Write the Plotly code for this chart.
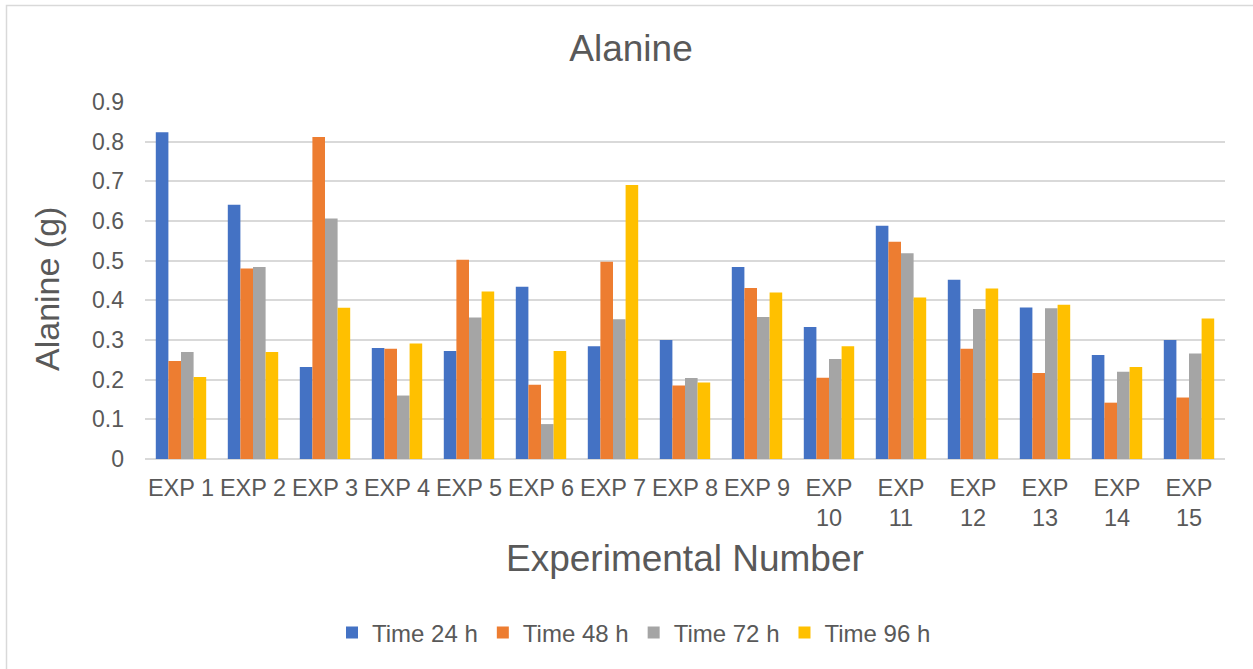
import plotly.graph_objects as go

# Alanine mass (g) per experiment, sampled at four time points
experiments = [f"EXP {i}" for i in range(1, 16)]
tick_labels = [f"EXP {i}" if i < 10 else f"EXP<br>{i}" for i in range(1, 16)]

time_24h = [0.824, 0.641, 0.232, 0.280, 0.272, 0.434, 0.284, 0.300, 0.484, 0.333, 0.588, 0.452, 0.382, 0.262, 0.300]
time_48h = [0.247, 0.480, 0.812, 0.278, 0.502, 0.187, 0.497, 0.185, 0.431, 0.205, 0.548, 0.278, 0.217, 0.142, 0.155]
time_72h = [0.270, 0.484, 0.606, 0.160, 0.357, 0.088, 0.352, 0.204, 0.358, 0.252, 0.519, 0.378, 0.380, 0.220, 0.266]
time_96h = [0.207, 0.270, 0.381, 0.291, 0.422, 0.272, 0.691, 0.193, 0.420, 0.284, 0.407, 0.430, 0.389, 0.232, 0.354]

series_names = ["Time 24 h", "Time 48 h", "Time 72 h", "Time 96 h"]
series_values = [time_24h, time_48h, time_72h, time_96h]
series_colors = ["#4472C4", "#ED7D31", "#A5A5A5", "#FFC000"]

W, H = 1253, 669
L, R, T, B = 145, 28, 102, 210
TEXT = "#595959"
FONT = "Liberation Sans, Arial, sans-serif"

fig = go.Figure()
for name, vals, col in zip(series_names, series_values, series_colors):
    fig.add_trace(go.Bar(
        x=experiments, y=vals, name=name,
        marker=dict(color=col, line=dict(width=0)),
    ))

pw, ph = W - L - R, H - T - B

def px_x(p):
    return (p - L) / pw

def px_y(p):
    return (H - B - p) / ph

fig.update_layout(
    width=W, height=H,
    margin=dict(l=L, r=R, t=T, b=B, autoexpand=False),
    paper_bgcolor="white", plot_bgcolor="white",
    barmode="group", bargap=0.3, bargroupgap=0,
    font=dict(family=FONT, color=TEXT, size=22),
    title=dict(
        text="Alanine", font=dict(size=37, color=TEXT, family=FONT),
        xref="container", yref="container",
        x=631 / W, y=1 - 48 / H, xanchor="center", yanchor="middle",
    ),
    xaxis=dict(
        tickmode="array", tickvals=experiments, ticktext=tick_labels,
        showgrid=False, showline=False, ticks="",
        tickfont=dict(size=23.5, color=TEXT), ticklabelstandoff=12,
    ),
    yaxis=dict(
        range=[0, 0.9], dtick=0.1, tick0=0,
        showgrid=True, gridcolor="#D9D9D9", gridwidth=1.5,
        zeroline=True, zerolinecolor="#D9D9D9", zerolinewidth=1.5,
        showline=False, ticks="",
        tickfont=dict(size=23, color=TEXT), ticklabelstandoff=20,
    ),
    legend=dict(
        orientation="h", xref="container", yref="container",
        x=634 / W, y=1 - 633 / H, xanchor="center", yanchor="middle",
        font=dict(size=24, color=TEXT), itemwidth=30,
        bgcolor="rgba(0,0,0,0)",
    ),
    showlegend=True,
)

# Axis titles
fig.add_annotation(
    text="Alanine (g)", xref="paper", yref="paper",
    x=px_x(47), y=px_y(289), showarrow=False, textangle=-90,
    font=dict(size=34, color=TEXT, family=FONT),
    xanchor="center", yanchor="middle",
)
fig.add_annotation(
    text="Experimental Number", xref="paper", yref="paper",
    x=px_x(685), y=px_y(558), showarrow=False,
    font=dict(size=37, color=TEXT, family=FONT),
    xanchor="center", yanchor="middle",
)

# Chart frame
fig.add_shape(
    type="rect", xref="paper", yref="paper",
    x0=px_x(6.5), x1=px_x(1262), y0=px_y(680), y1=px_y(5.5),
    line=dict(color="#D9D9D9", width=1.5), fillcolor="rgba(0,0,0,0)",
    layer="below",
)

fig.write_html("out.html")
